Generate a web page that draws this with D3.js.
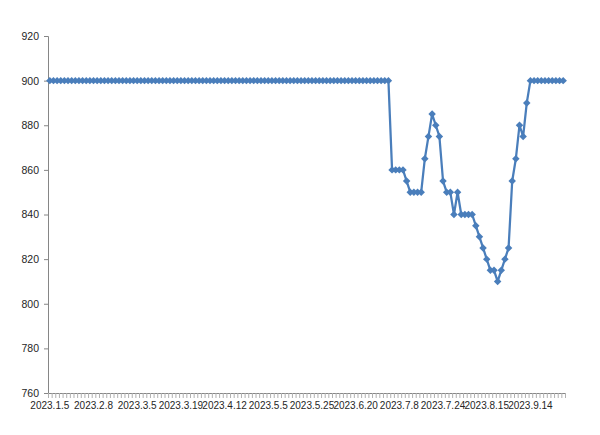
<!DOCTYPE html>
<html>
<head>
<meta charset="utf-8">
<script src="https://cdn.jsdelivr.net/npm/d3@7"></script>
<style>
  html, body { margin: 0; padding: 0; background: #fff; }
  svg { display: block; }
  text { font-family: "Liberation Sans", Arial, sans-serif; }
</style>
</head>
<body>
<svg id="chart" width="600" height="435"></svg>
<script>
// ---- data ----
const tickLabels = ["2023.1.5", "2023.2.8", "2023.3.5", "2023.3.19", "2023.4.12", "2023.5.5",
                    "2023.5.25", "2023.6.20", "2023.7.8", "2023.7.24", "2023.8.15", "2023.9.14"];
const labelInterval = 12;
const values = [
  900, 900, 900, 900, 900, 900, 900, 900, 900, 900,
  900, 900, 900, 900, 900, 900, 900, 900, 900, 900,
  900, 900, 900, 900, 900, 900, 900, 900, 900, 900,
  900, 900, 900, 900, 900, 900, 900, 900, 900, 900,
  900, 900, 900, 900, 900, 900, 900, 900, 900, 900,
  900, 900, 900, 900, 900, 900, 900, 900, 900, 900,
  900, 900, 900, 900, 900, 900, 900, 900, 900, 900,
  900, 900, 900, 900, 900, 900, 900, 900, 900, 900,
  900, 900, 900, 900, 900, 900, 900, 900, 900, 900,
  900, 900, 900, 900,
  860, 860, 860, 860, 855, 850, 850, 850, 850, 865,
  875, 885, 880, 875, 855, 850, 850, 840, 850, 840,
  840, 840, 840, 835, 830, 825, 820, 815, 815, 810,
  815, 820, 825, 855, 865, 880, 875, 890,
  900, 900, 900, 900, 900, 900, 900, 900, 900, 900
];
const yTicks = [760, 780, 800, 820, 840, 860, 880, 900, 920];

// ---- layout ----
const svg = d3.select("#chart");
const mLeft = 48, mRight = 565, mTop = 36, mBottom = 393;
const N = values.length;
const x = d3.scaleBand().domain(d3.range(N)).range([mLeft, mRight]).padding(0);
const xEdge = d3.scaleLinear().domain([0, N]).range([mLeft, mRight]);
const y = d3.scaleLinear().domain([760, 920]).range([mBottom, mTop]);
const cx = i => x(i) + x.bandwidth() / 2;

const axisColor = "#868686";
const textColor = "#262626";

// y axis
const gy = svg.append("g").attr("transform", `translate(${mLeft},0)`)
  .call(d3.axisLeft(y).tickValues(yTicks).tickSize(4).tickPadding(5).tickFormat(d3.format("d")));
gy.select(".domain").attr("stroke", axisColor);
gy.selectAll(".tick line").attr("stroke", axisColor);
gy.selectAll("text").attr("fill", textColor).style("font-size", "10.5px")
  .style("font-family", "'Liberation Sans', Arial, sans-serif");

// x axis: minor tick marks between categories
const gxt = svg.append("g").attr("transform", `translate(0,${mBottom})`)
  .call(d3.axisBottom(xEdge).tickValues(d3.range(N + 1)).tickSize(5).tickFormat(""));
gxt.select(".domain").attr("stroke", axisColor);
gxt.selectAll(".tick line").attr("stroke", "#b0b0b0");

// x axis labels
const labelIdx = tickLabels.map((_, j) => j * labelInterval);
const gx = svg.append("g").attr("transform", `translate(0,${mBottom})`)
  .call(d3.axisBottom(x).tickValues(labelIdx).tickSize(0).tickPadding(9)
    .tickFormat(i => tickLabels[i / labelInterval]));
gx.select(".domain").remove();
gx.selectAll("text").attr("fill", textColor).style("font-size", "10px")
  .style("font-family", "'Liberation Sans', Arial, sans-serif");

// line
const color = "#4a7ebb";
svg.append("path")
  .datum(values)
  .attr("fill", "none")
  .attr("stroke", color)
  .attr("stroke-width", 2.25)
  .attr("stroke-linejoin", "round")
  .attr("d", d3.line().x((d, i) => cx(i)).y(d => y(d)));

// diamond markers
const sym = d3.symbol().type(d3.symbolSquare).size(28)();
svg.append("g").selectAll("path")
  .data(values)
  .join("path")
  .attr("d", sym)
  .attr("fill", color)
  .attr("transform", (d, i) => `translate(${cx(i)},${y(d)}) rotate(45)`);
</script>
</body>
</html>
